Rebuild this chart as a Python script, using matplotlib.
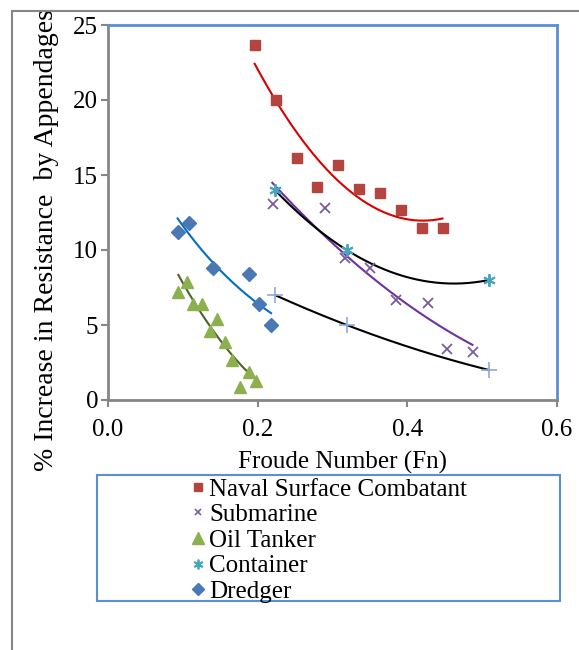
import numpy as np
import matplotlib
matplotlib.use("Agg")
import matplotlib.pyplot as plt
from matplotlib.lines import Line2D
from matplotlib.patches import Rectangle

# ---- data ----
naval_x = [0.196, 0.224, 0.252, 0.279, 0.307, 0.335, 0.363, 0.392, 0.419, 0.447]
naval_y = [23.7, 20.0, 16.1, 14.2, 15.7, 14.1, 13.8, 12.7, 11.5, 11.5]

sub_x = [0.220, 0.290, 0.317, 0.350, 0.385, 0.428, 0.453, 0.488]
sub_y = [13.1, 12.8, 9.5, 8.8, 6.7, 6.5, 3.4, 3.2]
# submarine trendline values
sub_trend_x = [0.2196, 0.247, 0.2737, 0.3004, 0.327, 0.3537, 0.3804, 0.407, 0.4337, 0.4604, 0.487]
sub_trend_y = [14.5, 13.1, 11.6, 10.3, 9.3, 8.3, 7.1, 6.1, 5.2, 4.4, 3.7]

oil_x = [0.094, 0.105, 0.114, 0.126, 0.136, 0.146, 0.156, 0.166, 0.177, 0.188, 0.198]
oil_y = [7.2, 7.9, 6.4, 6.4, 4.6, 5.4, 3.9, 2.7, 0.9, 1.9, 1.3]
# oil tanker trendline values
oil_trend_x = [0.094, 0.1355, 0.167, 0.197]
oil_trend_y = [8.33, 5.0, 2.9, 1.38]

cont_x = [0.223, 0.319, 0.509]
cont_y = [14.0, 10.0, 8.0]

plus_x = [0.223, 0.319, 0.509]
plus_y = [7.0, 5.0, 2.0]

dred_x = [0.093, 0.108, 0.140, 0.188, 0.202, 0.218]
dred_y = [11.2, 11.8, 8.8, 8.4, 6.4, 5.0]

x_ticks = [0.0, 0.2, 0.4, 0.6]
y_ticks = [0, 5, 10, 15, 20, 25]
legend_labels = ["Naval Surface Combatant", "Submarine", "Oil Tanker", "Container", "Dredger"]

# ---- styling ----
plt.rcParams['font.family'] = ['Liberation Serif', 'DejaVu Serif']
FS = 18
GRAY = '#868686'
BLUE = '#5B8ED6'

W, H = 579, 650
fig = plt.figure(figsize=(W / 100, H / 100), dpi=100)
ax = fig.add_axes([108 / W, 1 - 400 / H, (557 - 108) / W, (400 - 25) / H])


def poly_trend(x, y, color):
    c = np.polyfit(x, y, 2)
    xs = np.linspace(min(x), max(x), 200)
    ax.plot(xs, np.polyval(c, xs), color=color, lw=1.5, zorder=3)


def exp_trend(x, y, color):
    c = np.polyfit(x, np.log(y), 1)
    xs = np.linspace(min(x), max(x), 200)
    ax.plot(xs, np.exp(np.polyval(c, xs)), color=color, lw=1.5, zorder=3)


poly_trend(naval_x, naval_y, '#D90000')
poly_trend(sub_trend_x, sub_trend_y, '#7030A0')
poly_trend(cont_x, cont_y, 'black')
poly_trend(plus_x, plus_y, 'black')
exp_trend(dred_x, dred_y, '#0070C0')
poly_trend(oil_trend_x, oil_trend_y, '#4F6228')

ax.plot(naval_x, naval_y, ls='none', marker='s', ms=7.5, color='#B5443F', zorder=4)
ax.plot(sub_x, sub_y, ls='none', marker='x', ms=6.5, mew=1.3, color='#7A5C9E', zorder=4)
ax.plot(oil_x, oil_y, ls='none', marker='^', ms=9, color='#8DB04E', zorder=4)
ax.plot(cont_x, cont_y, ls='none', marker=(6, 2, 0), ms=9, mew=1.4, color='#45A6C0', zorder=4)
ax.plot(plus_x, plus_y, ls='none', marker='+', ms=12, mew=1.2, color='#8DA9DB', zorder=4)
ax.plot(dred_x, dred_y, ls='none', marker='D', ms=7, color='#4A78B4', zorder=4)

ax.set_xlim(0, 0.6)
ax.set_ylim(0, 25)
ax.set_xticks(x_ticks)
ax.set_xticklabels([f"{v:.1f}" for v in x_ticks])
ax.set_yticks(y_ticks)
ax.set_yticklabels([str(v) for v in y_ticks])
ax.tick_params(axis='both', direction='out', color=GRAY, width=1.5, length=5, labelsize=FS)
ax.tick_params(axis='x', pad=9)
ax.tick_params(axis='y', pad=2)

for s in ['left', 'bottom']:
    ax.spines[s].set_color(GRAY)
    ax.spines[s].set_linewidth(2)
for s in ['top', 'right']:
    ax.spines[s].set_color(BLUE)
    ax.spines[s].set_linewidth(2)

ax.set_xlabel("Froude Number (Fn)", fontsize=FS)
ax.xaxis.set_label_coords((343 - 108) / 449, (400 - 462) / 375)
ax.xaxis.label.set_verticalalignment('center')
ax.set_ylabel("% Increase in Resistance  by Appendages", fontsize=20)
ax.yaxis.set_label_coords((47 - 108) / 449, (400 - 240) / 375)
ax.yaxis.label.set_verticalalignment('center')

# outer chart border (cropped at right/bottom)
fig.add_artist(Rectangle((12 / W, -0.2), 2, 1 - 11 / H + 0.2, transform=fig.transFigure,
                         fill=False, edgecolor=GRAY, lw=1.5))
# legend frame
fig.add_artist(Rectangle((97 / W, 1 - 601 / H), (560 - 97) / W, (601 - 475) / H,
                         transform=fig.transFigure, fill=False, edgecolor=BLUE, lw=1.5))

handles = [
    Line2D([], [], ls='none', marker='s', ms=6, color='#B5443F'),
    Line2D([], [], ls='none', marker='x', ms=5, mew=1.2, color='#7A5C9E'),
    Line2D([], [], ls='none', marker='^', ms=8, color='#8DB04E'),
    Line2D([], [], ls='none', marker=(6, 2, 0), ms=7, mew=1.3, color='#45A6C0'),
    Line2D([], [], ls='none', marker='D', ms=6, color='#4A78B4'),
]
fig.legend(handles, legend_labels, loc='upper left', bbox_to_anchor=(190 / W, 1 - 478 / H),
           frameon=False, fontsize=FS, handlelength=0.6, handletextpad=0.16,
           labelspacing=0.125, borderpad=0, borderaxespad=0)

fig.savefig("out.png", dpi=100)
